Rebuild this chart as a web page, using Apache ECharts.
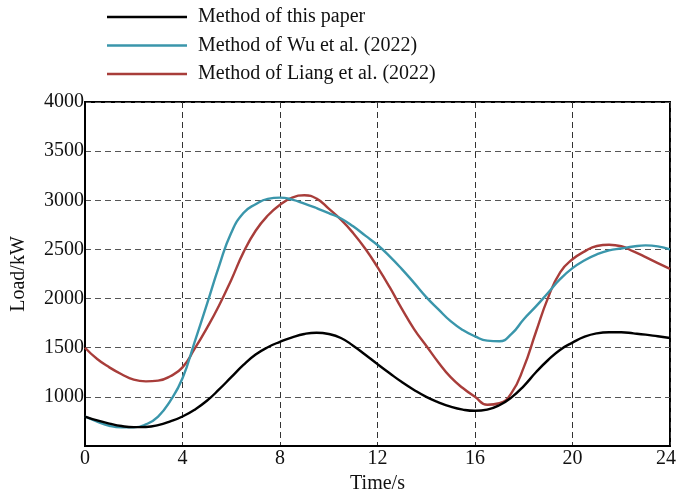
<!DOCTYPE html>
<html>
<head>
<meta charset="utf-8">
<script src="https://cdn.jsdelivr.net/npm/echarts@6/dist/echarts.min.js"></script>
<style>
  html, body { margin: 0; padding: 0; background: #fff; }
  #chart { width: 676px; height: 491px; }
</style>
</head>
<body>
<div id="chart"></div>
<script>
  // time axis (s), every half second
  var hours = [0,0.5,1,1.5,2,2.5,3,3.5,4,4.5,5,5.5,6,6.5,7,7.5,8,8.5,9,9.5,10,10.5,11,11.5,12,
               12.5,13,13.5,14,14.5,15,15.5,16,16.5,17,17.5,18,18.5,19,19.5,20,20.5,21,21.5,22,22.5,23,23.5,24];
  // load (kW)
  var thisPaper = [800,760,728,703,692,694,712,750,800,870,960,1075,1200,1325,1430,1505,1560,1606,1640,1653,1640,1599,1521,1429,1333,
                   1240,1150,1070,1000,945,900,870,858,870,915,995,1110,1250,1375,1480,1552,1612,1646,1657,1657,1646,1633,1616,1599];
  var wu2022    = [800,748,706,690,690,720,800,960,1190,1560,1940,2330,2670,2870,2960,3015,3027,3007,2966,2920,2870,2815,2735,2640,2545,
                   2430,2300,2160,2015,1890,1770,1680,1615,1572,1566,1640,1790,1920,2060,2200,2310,2390,2450,2490,2510,2530,2541,2531,2500];
  var liang2022 = [1500,1385,1300,1230,1175,1158,1165,1210,1300,1490,1700,1930,2190,2470,2690,2845,2955,3027,3051,3017,2915,2803,2667,2507,2320,
                   2116,1895,1690,1520,1350,1200,1090,1000,920,935,1040,1300,1660,2010,2270,2400,2480,2535,2548,2532,2480,2422,2361,2303];
  var yTicks = [500, 4000, 500]; // min, max, interval

  function pairs(ys) {
    return hours.map(function (h, i) { return [h, ys[i]]; });
  }

  var font = 'Liberation Serif';
  var chart = echarts.init(document.getElementById('chart'));
  chart.setOption({
    animation: false,
    textStyle: { fontFamily: font },
    legend: {
      orient: 'vertical',
      left: 102,
      top: 2,
      icon: 'rect',
      itemWidth: 80,
      itemHeight: 2.5,
      itemGap: 8.5,
      textStyle: { fontFamily: font, fontSize: 20, lineHeight: 20, color: '#111', padding: [0, 0, 0, 6] },
      data: ['Method of this paper', 'Method of Wu et al. (2022)', 'Method of Liang et al. (2022)']
    },
    grid: {
      left: 85, right: 6, top: 102, bottom: 45,
      outerBoundsMode: 'none',
      show: true, borderColor: '#000', borderWidth: 2
    },
    xAxis: {
      type: 'value',
      min: 0, max: 24, interval: 4,
      name: 'Time/s',
      nameLocation: 'middle',
      nameGap: 21,
      nameTextStyle: { fontFamily: font, fontSize: 20, color: '#111' },
      axisLine: { lineStyle: { color: '#000', width: 2 } },
      axisTick: { show: false },
      axisLabel: {
        fontFamily: font, fontSize: 20, color: '#111', margin: 3,
        formatter: function (v) { return v === 24 ? '{r|24}' : v; },
        rich: { r: { fontFamily: font, fontSize: 20, color: '#111', padding: [0, 8, 0, 0] } }
      },
      splitLine: { lineStyle: { color: '#333', type: [6, 4], width: 1 } }
    },
    yAxis: {
      type: 'value',
      min: yTicks[0], max: yTicks[1], interval: yTicks[2],
      name: 'Load/kW',
      nameLocation: 'middle',
      nameGap: 56,
      nameTextStyle: { fontFamily: font, fontSize: 20, color: '#111' },
      axisLine: { lineStyle: { color: '#000', width: 2 } },
      axisTick: { show: false },
      axisLabel: {
        fontFamily: font, fontSize: 20, color: '#111', margin: 1,
        formatter: function (v) { return v === yTicks[0] ? '' : v; }
      },
      splitLine: { lineStyle: { color: '#555', type: [6, 4], width: 1 } }
    },
    series: [
      { name: 'Method of this paper', type: 'line', smooth: 0.5, symbol: 'none',
        data: pairs(thisPaper), lineStyle: { color: '#000', width: 2.4 }, itemStyle: { color: '#000' }, z: 4 },
      { name: 'Method of Wu et al. (2022)', type: 'line', smooth: 0.5, symbol: 'none',
        data: pairs(wu2022), lineStyle: { color: '#3a96ab', width: 2.4 }, itemStyle: { color: '#3a96ab' }, z: 3 },
      { name: 'Method of Liang et al. (2022)', type: 'line', smooth: 0.5, symbol: 'none',
        data: pairs(liang2022), lineStyle: { color: '#a83d3a', width: 2.4 }, itemStyle: { color: '#a83d3a' }, z: 2 }
    ]
  });
</script>
</body>
</html>
